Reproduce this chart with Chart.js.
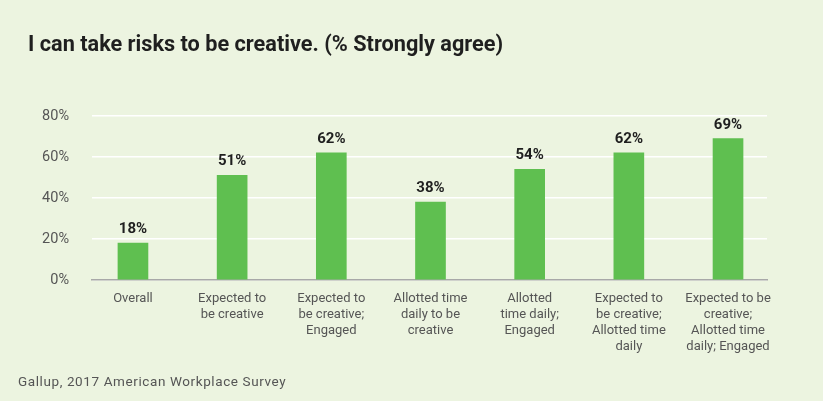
<!DOCTYPE html>
<html>
<head>
<meta charset="utf-8">
<script src="https://cdn.jsdelivr.net/npm/chart.js@4"></script>
<style>
  html, body { margin: 0; padding: 0; background: #ecf4e0; }
  #wrap { position: relative; width: 823px; height: 401px; overflow: hidden; }
  #title { position: absolute; left: 28px; top: 31px; font: bold 21.7px Roboto, sans-serif; color: #1f1f1f; white-space: nowrap; }
  #source { position: absolute; left: 18px; top: 373px; font: 13.5px Roboto, sans-serif; color: #555; letter-spacing: 0.6px; white-space: nowrap; }
  #chart { position: absolute; left: 0; top: 0; }
</style>
</head>
<body>
<div id="wrap">
  <canvas id="chart" width="823" height="401"></canvas>
  <div id="title">I can take risks to be creative. (% Strongly agree)</div>
  <div id="source">Gallup, 2017 American Workplace Survey</div>
</div>
<script>
const categories = [
    ['Overall'],
    ['Expected to', 'be creative'],
    ['Expected to', 'be creative;', 'Engaged'],
    ['Allotted time', 'daily to be', 'creative'],
    ['Allotted', 'time daily;', 'Engaged'],
    ['Expected to', 'be creative;', 'Allotted time', 'daily'],
    ['Expected to be', 'creative;', 'Allotted time', 'daily; Engaged']
];
const stronglyAgree = [18, 51, 62, 38, 54, 62, 69];
const yTicks = [0, 20, 40, 60, 80];

// draw the % value above each bar
const valueLabels = {
    id: 'valueLabels',
    afterDatasetsDraw(chart) {
        const ctx = chart.ctx;
        const meta = chart.getDatasetMeta(0);
        ctx.save();
        ctx.font = 'bold 15px Roboto, sans-serif';
        ctx.fillStyle = '#1f1f1f';
        ctx.textAlign = 'center';
        ctx.textBaseline = 'alphabetic';
        meta.data.forEach((bar, i) => {
            ctx.fillText(stronglyAgree[i] + '%', bar.x, bar.y - 10);
        });
        ctx.restore();
    }
};

const ctxChart = document.getElementById('chart').getContext('2d');
const chart = new Chart(ctxChart, {
    type: 'bar',
    data: {
        datasets: [{
            data: stronglyAgree.map((v, i) => ({ x: i, y: v })),
            backgroundColor: '#5fbf50',
            borderWidth: 0,
            barThickness: 30
        }]
    },
    options: {
        responsive: false,
        animation: false,
        layout: { padding: { top: 116, right: 56, left: 0, bottom: 0 } },
        plugins: {
            legend: { display: false },
            tooltip: { enabled: false }
        },
        scales: {
            x: {
                type: 'linear',
                offset: false,
                min: -0.413,
                max: 6.393,
                afterBuildTicks(scale) {
                    scale.ticks = categories.map((c, i) => ({ value: i }));
                },
                afterFit(scale) { scale.height = 121; },
                grid: { display: false, drawTicks: false },
                border: { display: true, color: '#a8a8a8', width: 1.5 },
                ticks: {
                    autoSkip: false,
                    maxRotation: 0,
                    padding: 11,
                    color: '#555',
                    font: { family: 'Roboto, sans-serif', size: 13, lineHeight: 1.23 },
                    callback: (v) => categories[v]
                }
            },
            y: {
                min: 0,
                max: 80,
                afterBuildTicks(scale) {
                    scale.ticks = yTicks.map(v => ({ value: v }));
                },
                afterFit(scale) { scale.width = 92; },
                grid: { color: '#ffffff', lineWidth: 1.5, drawTicks: false },
                border: { display: false },
                ticks: {
                    padding: 23,
                    color: '#555',
                    font: { family: 'Roboto, sans-serif', size: 14.5 },
                    callback: (v) => v + '%'
                }
            }
        }
    },
    plugins: [valueLabels]
});
</script>
</body>
</html>
